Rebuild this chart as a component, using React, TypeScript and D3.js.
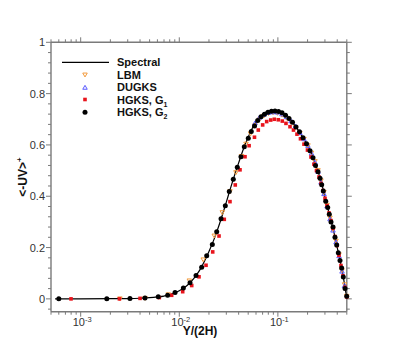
import React from "react";
import * as d3 from "d3";

// y/(2H), -uv+
const spectral: [number, number][] = [
  [5.5e-4, 0], [1e-3, 0.0002], [2e-3, 0.0006], [3e-3, 0.0012], [4e-3, 0.0025],
  [5e-3, 0.0045], [6e-3, 0.0075], [7e-3, 0.011], [8e-3, 0.016], [9e-3, 0.024],
  [0.01, 0.032], [0.012, 0.052], [0.014, 0.079], [0.016, 0.11], [0.018, 0.147],
  [0.02, 0.185], [0.0225, 0.232], [0.025, 0.281], [0.0275, 0.33], [0.03, 0.377],
  [0.0325, 0.422], [0.035, 0.462], [0.04, 0.53], [0.045, 0.587], [0.05, 0.63],
  [0.055, 0.665], [0.06, 0.69], [0.065, 0.708], [0.07, 0.72], [0.075, 0.727],
  [0.08, 0.731], [0.09, 0.733], [0.1, 0.731], [0.11, 0.725], [0.12, 0.715],
  [0.13, 0.703], [0.14, 0.689], [0.16, 0.659], [0.18, 0.628], [0.2, 0.598],
  [0.22, 0.565], [0.24, 0.525], [0.26, 0.487], [0.28, 0.445], [0.3, 0.396],
  [0.32, 0.356], [0.34, 0.313], [0.36, 0.279], [0.38, 0.24], [0.4, 0.2],
  [0.42, 0.162], [0.44, 0.126], [0.46, 0.086], [0.48, 0.045], [0.5, 0.0],
];

const lbm: [number, number][] = [
  [2.5e-3, 0], [4.5e-3, 0.002], [7.74e-3, 0.016], [0.01264, 0.07], [0.0175, 0.152],
  [0.02264, 0.245], [0.0273, 0.336], [0.03267, 0.418], [0.03757, 0.492], [0.0428, 0.555],
  [0.0475, 0.603], [0.0528, 0.643], [0.0586, 0.675], [0.0651, 0.698], [0.0722, 0.713],
  [0.0803, 0.722], [0.0892, 0.725], [0.099, 0.723], [0.1101, 0.716], [0.1223, 0.704],
  [0.1358, 0.688], [0.1509, 0.668], [0.1676, 0.645], [0.184, 0.622], [0.2019, 0.597],
  [0.2191, 0.568], [0.2377, 0.535], [0.2552, 0.5], [0.2736, 0.46], [0.2936, 0.415],
  [0.3149, 0.365], [0.3378, 0.315], [0.3623, 0.27], [0.3886, 0.225], [0.4169, 0.172],
  [0.4472, 0.11], [0.4743, 0.055], [0.499, 0.01],
];

const dugks: [number, number][] = [
  [0.0586, 0.686], [0.0651, 0.708], [0.0722, 0.72], [0.0803, 0.727], [0.0892, 0.729],
  [0.099, 0.728], [0.1101, 0.721], [0.1223, 0.71], [0.1358, 0.694], [0.1509, 0.674],
  [0.1676, 0.648], [0.184, 0.624], [0.2019, 0.598], [0.2191, 0.568], [0.2377, 0.533],
  [0.2552, 0.497], [0.2736, 0.455], [0.2936, 0.41], [0.3149, 0.362], [0.3378, 0.312],
  [0.3623, 0.268], [0.3886, 0.222], [0.4169, 0.168], [0.4472, 0.108], [0.4743, 0.052],
];

const hgksG1: [number, number][] = [
  [7.98e-4, 0], [2.47e-3, 0], [4.0e-3, 0.002], [6.27e-3, 0.005], [8.37e-3, 0.014],
  [0.01083, 0.028], [0.01337, 0.052], [0.01585, 0.086], [0.01867, 0.131], [0.02183, 0.183],
  [0.0253, 0.245], [0.0286, 0.31], [0.03267, 0.379], [0.03697, 0.444], [0.0413, 0.503],
  [0.0464, 0.554], [0.05107, 0.597], [0.0579, 0.63], [0.06327, 0.658], [0.0701, 0.678],
  [0.077, 0.691], [0.0846, 0.697], [0.092, 0.7], [0.101, 0.698], [0.1109, 0.693],
  [0.1208, 0.684], [0.1327, 0.671], [0.144, 0.658], [0.1562, 0.642], [0.1695, 0.624],
  [0.184, 0.603], [0.1996, 0.58], [0.2166, 0.553], [0.2322, 0.525], [0.2463, 0.5],
  [0.2613, 0.475], [0.274, 0.45], [0.287, 0.422], [0.3007, 0.392], [0.3152, 0.363],
  [0.3301, 0.335], [0.3459, 0.305], [0.3623, 0.275], [0.3795, 0.243], [0.3976, 0.208],
  [0.4166, 0.17], [0.4364, 0.13], [0.4572, 0.09], [0.479, 0.045], [0.499, 0.008],
];

const hgksG2: [number, number][] = [
  [6.0e-4, 0], [1.84e-3, 0.0005], [3.16e-3, 0.001], [4.49e-3, 0.003], [6.12e-3, 0.008],
  [7.62e-3, 0.014], [9.06e-3, 0.025], [0.011, 0.042], [0.01285, 0.063], [0.01479, 0.091],
  [0.01687, 0.123], [0.01897, 0.168], [0.02163, 0.212], [0.02397, 0.262], [0.0265, 0.312],
  [0.0293, 0.363], [0.03215, 0.418], [0.0353, 0.466], [0.03876, 0.513], [0.04223, 0.554],
  [0.04565, 0.593], [0.05012, 0.626], [0.05374, 0.652], [0.05794, 0.674], [0.06238, 0.695],
  [0.06745, 0.71], [0.07311, 0.72], [0.07937, 0.727], [0.0861, 0.731], [0.09349, 0.732],
  [0.1015, 0.73], [0.1101, 0.725], [0.1195, 0.716], [0.1297, 0.703], [0.1407, 0.688],
  [0.1527, 0.67], [0.1657, 0.651], [0.1798, 0.628], [0.1951, 0.605], [0.2117, 0.577],
  [0.2271, 0.55], [0.2408, 0.52], [0.2553, 0.495], [0.2675, 0.47], [0.2782, 0.445],
  [0.2889, 0.42], [0.3057, 0.38], [0.3202, 0.356], [0.3323, 0.33], [0.3459, 0.3],
  [0.3623, 0.28], [0.3795, 0.24], [0.395, 0.21], [0.41, 0.18], [0.4266, 0.15],
  [0.4437, 0.12], [0.4608, 0.085], [0.4797, 0.04], [0.499, 0.01],
];

const yMajor = [0, 0.2, 0.4, 0.6, 0.8, 1];
const yMajorLabels = ["0", "0.2", "0.4", "0.6", "0.8", "1"];
const xMajor = [1e-3, 1e-2, 1e-1];
const xMajorExp = ["-3", "-2", "-1"];

const W = 395;
const H = 351;
const left = 51;
const right = 346.8;
const top = 42.3;
const bottom = 311.7;

const x = d3.scaleLog().domain([5e-4, 0.5]).range([left, right]);
const y = d3.scaleLinear().domain([-0.05, 1]).range([bottom, top]);

const axisColor = "#7a7a7a";
const font = "Liberation Sans, Arial, Helvetica, sans-serif";

const orange = "#f29a3c";
const blue = "#5a5aff";
const red = "#e8141c";

// minor ticks
const xMinor: number[] = [];
[1e-4, 1e-3, 1e-2, 1e-1].forEach((d) => {
  for (let k = 2; k <= 9; k++) {
    const v = d * k;
    if (v >= 5e-4 && v <= 0.5 && !xMajor.includes(v)) xMinor.push(v);
  }
});
const yMinor: number[] = d3.range(-0.04, 1.0001, 0.04).filter(
  (v) => !yMajor.some((m) => Math.abs(m - v) < 1e-6)
);

function DownTri({ cx, cy, s, color }: { cx: number; cy: number; s: number; color: string }) {
  const h = s * 0.866;
  return (
    <polygon
      points={`${cx - s / 2},${cy - h / 2} ${cx + s / 2},${cy - h / 2} ${cx},${cy + h / 2}`}
      fill="none"
      stroke={color}
      strokeWidth={1}
    />
  );
}

function UpTri({ cx, cy, s, color }: { cx: number; cy: number; s: number; color: string }) {
  const h = s * 0.866;
  return (
    <polygon
      points={`${cx - s / 2},${cy + h / 2} ${cx + s / 2},${cy + h / 2} ${cx},${cy - h / 2}`}
      fill="none"
      stroke={color}
      strokeWidth={1}
    />
  );
}

export default function App() {
  const line = d3
    .line<[number, number]>()
    .x((d) => x(d[0]))
    .y((d) => y(d[1]))
    .curve(d3.curveMonotoneX);

  const legendRows = [62.3, 75, 87.3, 99.5, 112.3];

  return (
    <svg
      width={W}
      height={H}
      style={{ position: "absolute", left: 0, top: 0, background: "#fff" }}
      fontFamily={font}
    >
      <rect width={W} height={H} fill="#fff" />

      {/* frame */}
      <g stroke={axisColor} strokeWidth={1.4} fill="none">
        <line x1={left} x2={left} y1={top} y2={bottom} />
        <line x1={right} x2={right} y1={top} y2={bottom} />
        <line x1={left} x2={right} y1={top} y2={top} />
        <line x1={left} x2={right} y1={bottom} y2={bottom} />
      </g>

      {/* y ticks */}
      <g stroke={axisColor} strokeWidth={1}>
        {yMajor.map((v) => (
          <g key={"ym" + v}>
            <line x1={left - 5} x2={left} y1={y(v)} y2={y(v)} />
            <line x1={right} x2={right + 5} y1={y(v)} y2={y(v)} />
          </g>
        ))}
        {yMinor.map((v) => (
          <g key={"yn" + v}>
            <line x1={left - 3} x2={left} y1={y(v)} y2={y(v)} />
            <line x1={right} x2={right + 3} y1={y(v)} y2={y(v)} />
          </g>
        ))}
        {xMajor.map((v) => (
          <g key={"xm" + v}>
            <line x1={x(v)} x2={x(v)} y1={bottom} y2={bottom + 5} />
            <line x1={x(v)} x2={x(v)} y1={top - 5} y2={top} />
          </g>
        ))}
        {xMinor.map((v) => (
          <g key={"xn" + v}>
            <line x1={x(v)} x2={x(v)} y1={bottom} y2={bottom + 3} />
            <line x1={x(v)} x2={x(v)} y1={top - 3} y2={top} />
          </g>
        ))}
      </g>

      {/* y tick labels */}
      <g fill="#333" fontSize={11} textAnchor="end">
        {yMajor.map((v, i) => (
          <text key={"yl" + v} x={left - 6} y={y(v) + 4}>
            {yMajorLabels[i]}
          </text>
        ))}
      </g>

      {/* x tick labels */}
      <g fill="#333" fontSize={11}>
        {xMajor.map((v, i) => (
          <text key={"xl" + v} x={x(v) - 8} y={bottom + 14}>
            10
            <tspan fontSize={7.5} dy={-4}>
              {xMajorExp[i]}
            </tspan>
          </text>
        ))}
      </g>

      {/* axis titles */}
      <text x={200} y={335} fontSize={12} fontWeight="bold" textAnchor="middle" fill="#111">
        Y/(2H)
      </text>
      <text
        transform={`translate(27,${177}) rotate(-90)`}
        fontSize={12}
        fontWeight="bold"
        textAnchor="middle"
        fill="#111"
      >
        {"<-UV>"}
        <tspan fontSize={8} dy={-5}>
          +
        </tspan>
      </text>

      {/* data */}
      <path d={line(spectral) || ""} fill="none" stroke="#000" strokeWidth={1.2} />
      {lbm.map((d, i) => (
        <DownTri key={"l" + i} cx={x(d[0])} cy={y(d[1])} s={4.5} color={orange} />
      ))}
      {dugks.map((d, i) => (
        <UpTri key={"d" + i} cx={x(d[0])} cy={y(d[1])} s={4.5} color={blue} />
      ))}
      {hgksG1.map((d, i) => (
        <rect key={"r" + i} x={x(d[0]) - 1.8} y={y(d[1]) - 1.8} width={3.6} height={3.6} fill={red} />
      ))}
      {hgksG2.map((d, i) => (
        <circle key={"b" + i} cx={x(d[0])} cy={y(d[1])} r={2.5} fill="#000" />
      ))}

      {/* legend */}
      <g fontSize={11} fontWeight="bold" fill="#111">
        <line x1={62} x2={109} y1={legendRows[0]} y2={legendRows[0]} stroke="#000" strokeWidth={1.2} />
        <DownTri cx={85} cy={legendRows[1]} s={4.5} color={orange} />
        <UpTri cx={85} cy={legendRows[2]} s={4.5} color={blue} />
        <rect x={85 - 1.8} y={legendRows[3] - 1.8} width={3.6} height={3.6} fill={red} />
        <circle cx={85} cy={legendRows[4]} r={2.5} fill="#000" />
        <text x={117} y={legendRows[0] + 4}>Spectral</text>
        <text x={117} y={legendRows[1] + 4}>LBM</text>
        <text x={117} y={legendRows[2] + 4}>DUGKS</text>
        <text x={117} y={legendRows[3] + 4}>
          HGKS, G
          <tspan fontSize={7} dy={3}>1</tspan>
        </text>
        <text x={117} y={legendRows[4] + 4}>
          HGKS, G
          <tspan fontSize={7} dy={3}>2</tspan>
        </text>
      </g>
    </svg>
  );
}
